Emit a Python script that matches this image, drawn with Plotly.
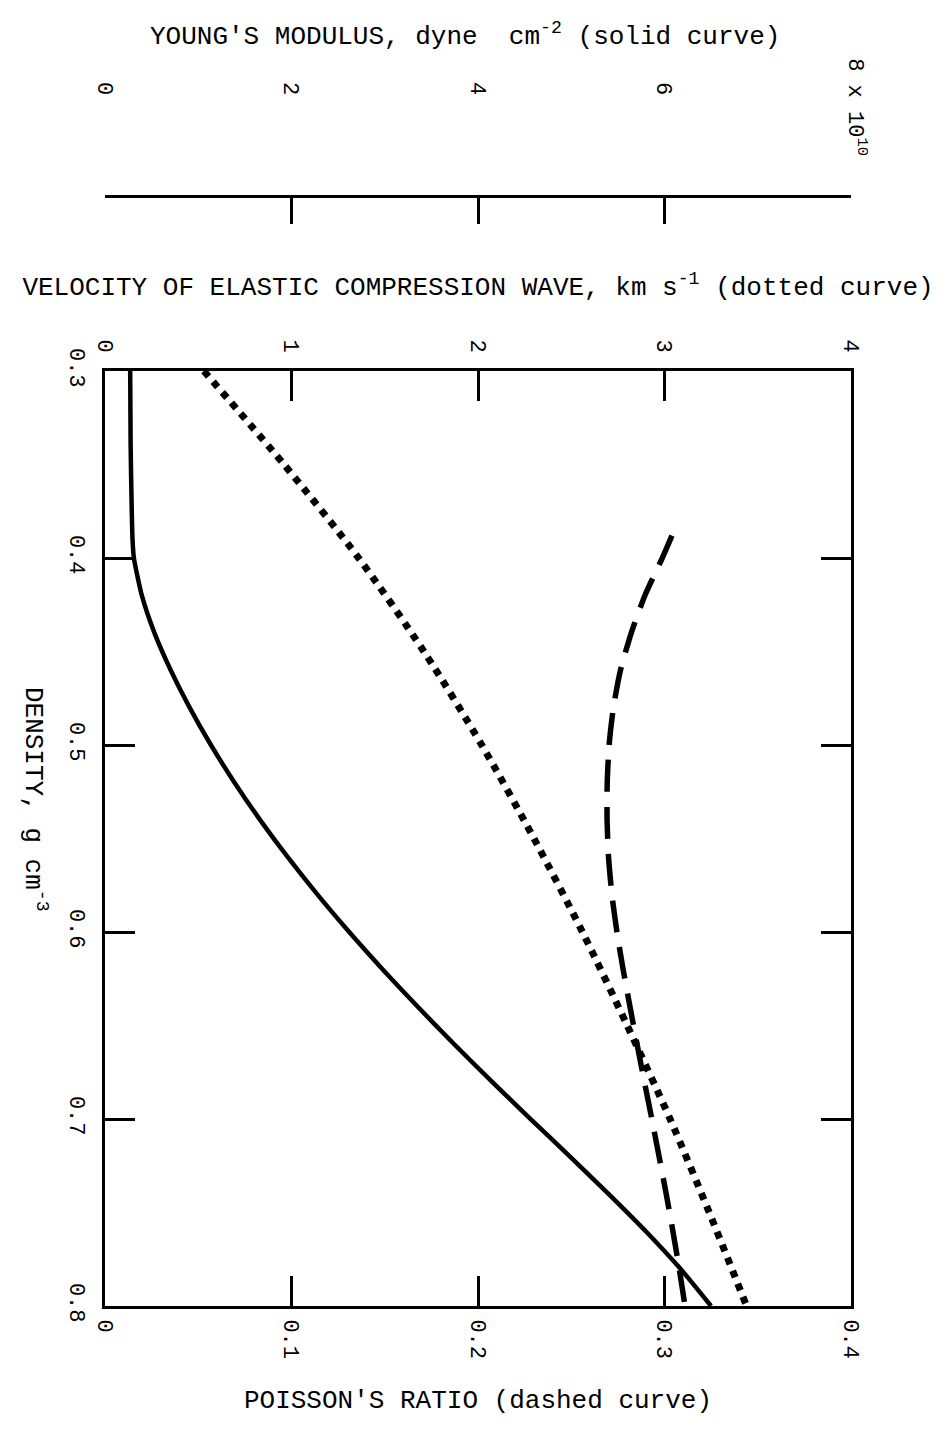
import plotly.graph_objects as go

# ---- data ----
density_solid = [0.30, 0.34, 0.37, 0.39, 0.40, 0.42, 0.44, 0.46, 0.48, 0.50, 0.52, 0.54,
                 0.56, 0.58, 0.60, 0.62, 0.64, 0.66, 0.68, 0.70, 0.72, 0.74, 0.76, 0.78, 0.80]
young_modulus = [0.27, 0.275, 0.285, 0.295, 0.31, 0.395, 0.53, 0.705, 0.908, 1.136, 1.388, 1.663,
                 1.960, 2.279, 2.619, 2.978, 3.354, 3.745, 4.149, 4.564, 4.984, 5.399, 5.799, 6.169, 6.499]

density_dotted = [0.30, 0.35, 0.40, 0.45, 0.50, 0.55, 0.60, 0.65, 0.70, 0.75, 0.80]
velocity = [0.53, 0.96, 1.36, 1.71, 2.02, 2.30, 2.56, 2.80, 3.03, 3.24, 3.44]

density_dashed = [0.388, 0.40, 0.42, 0.44, 0.46, 0.48, 0.50, 0.52, 0.54, 0.56, 0.58, 0.60,
                  0.62, 0.64, 0.66, 0.68, 0.70, 0.72, 0.74, 0.76, 0.78, 0.80]
poisson = [0.3040, 0.2988, 0.2895, 0.2822, 0.2764, 0.2726, 0.2703, 0.2693, 0.2692, 0.2700, 0.2718, 0.2745,
           0.2778, 0.2815, 0.2853, 0.2892, 0.2932, 0.2971, 0.3009, 0.3045, 0.3079, 0.3110]

density_ticks = [0.3, 0.4, 0.5, 0.6, 0.7, 0.8]
density_labels = ["0.3", "0.4", "0.5", "0.6", "0.7", "0.8"]
poisson_ticks = [0, 0.1, 0.2, 0.3, 0.4]
poisson_labels = ["0", "0.1", "0.2", "0.3", "0.4"]
velocity_ticks = [0, 1, 2, 3, 4]
velocity_labels = ["0", "1", "2", "3", "4"]
young_ticks = [0, 2, 4, 6, 8]
young_labels = ["0", "2", "4", "6", ""]

FONT = "Liberation Mono"
tickfont = dict(family=FONT, size=22, color="black")
titlefont = dict(family=FONT, size=26, color="black")

fig = go.Figure()
fig.add_trace(go.Scatter(x=young_modulus, y=density_solid, xaxis="x3", yaxis="y",
                         mode="lines",
                         line=dict(color="black", width=4.5, shape="spline", smoothing=0.6)))
fig.add_trace(go.Scatter(x=velocity, y=density_dotted, xaxis="x2", yaxis="y",
                         mode="lines",
                         line=dict(color="black", width=7, dash="7px,7px", shape="spline", smoothing=0.8)))
fig.add_trace(go.Scatter(x=poisson, y=density_dashed, xaxis="x", yaxis="y",
                         mode="lines",
                         line=dict(color="black", width=5.5, dash="32px,15px", shape="spline", smoothing=0.6)))

fig.update_layout(
    width=933, height=1433,
    margin=dict(l=97, r=90, t=188, b=135),
    paper_bgcolor="white", plot_bgcolor="white",
    showlegend=False,
    xaxis=dict(
        domain=[0, 1], range=[0, 0.4], tickvals=poisson_ticks, ticktext=poisson_labels,
        ticks="inside", ticklen=30, tickwidth=2.5, tickcolor="black",
        showline=True, linewidth=3, linecolor="black", mirror="ticks",
        showgrid=False, zeroline=False, tickangle=90, tickfont=tickfont,
        ticklabelstandoff=6,
        title=dict(text="POISSON'S RATIO (dashed curve)", font=titlefont, standoff=32),
    ),
    xaxis2=dict(
        overlaying="x", side="top", anchor="y", range=[0, 4],
        tickvals=velocity_ticks, ticktext=velocity_labels,
        ticks="", showline=False, showgrid=False, zeroline=False,
        tickangle=90, tickfont=tickfont, ticklabelstandoff=14,
        title=dict(text="VELOCITY OF ELASTIC COMPRESSION WAVE, km s<sup>-1</sup> (dotted curve)",
                   font=titlefont, standoff=36),
    ),
    xaxis3=dict(
        overlaying="x", side="top", anchor="free", position=1, range=[0, 8],
        tickvals=young_ticks, ticktext=young_labels,
        ticks="inside", ticklen=26, tickwidth=2.5, tickcolor="black",
        showline=True, linewidth=3, linecolor="black",
        showgrid=False, zeroline=False, tickangle=90, tickfont=tickfont,
        ticklabelstandoff=92,
    ),
    yaxis=dict(
        domain=[0, 0.8423], range=[0.8, 0.3], tickvals=density_ticks, ticktext=density_labels,
        ticks="inside", ticklen=30, tickwidth=2.5, tickcolor="black",
        showline=True, linewidth=3, linecolor="black", mirror="ticks",
        showgrid=False, zeroline=False, tickangle=90, tickfont=tickfont,
        ticklabelstandoff=6,
    ),
    annotations=[
        dict(text="YOUNG'S MODULUS, dyne\u00a0 cm<sup>-2</sup> (solid curve)", xref="paper", yref="paper",
             x=0.4826, y=1.145, showarrow=False, font=titlefont, xanchor="center", yanchor="middle"),
        dict(text="8 x 10<sup>10</sup>", xref="x3", yref="paper", x=8, y=1.08, xshift=6,
             showarrow=False, font=tickfont, textangle=90, xanchor="center", yanchor="middle"),
        dict(text="DENSITY, g cm<sup>-3</sup>", xref="paper", yref="paper",
             x=-0.094, y=0.456, showarrow=False, font=titlefont, textangle=90,
             xanchor="center", yanchor="middle"),
    ],
)

fig.write_html("out.html")
